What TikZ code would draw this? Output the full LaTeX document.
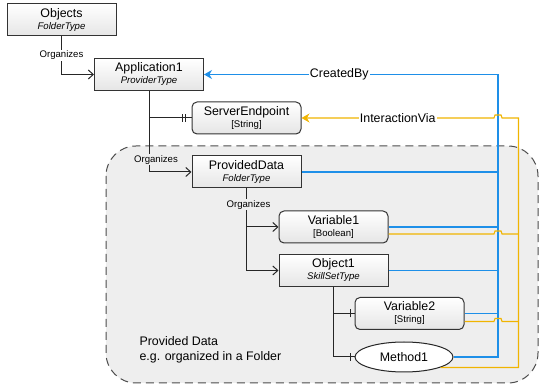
\documentclass[tikz,border=0pt]{standalone}
\usepackage{fontspec}
\setmainfont{Liberation Sans}
\usetikzlibrary{arrows.meta,calc,shapes.geometric,decorations.markings}
\definecolor{createdblue}{HTML}{1E8FE8}
\definecolor{interorange}{HTML}{F0B400}
\definecolor{regiongray}{HTML}{EEEEEE}
\newcommand{\typename}{\fontsize{12.4}{14}\selectfont}
\newcommand{\typesub}{\fontsize{9.6}{11}\selectfont}

\tikzset{
  objbox/.style={draw=black!80, line width=1pt, top color=white, bottom color=black!10,
    minimum width=109pt, minimum height=32pt, inner sep=1pt, align=center, font=\typename},
  varbox/.style={objbox, rounded corners=5pt},
  methodbox/.style={ellipse, draw=black!85, line width=1pt, fill=white,
    minimum width=98pt, minimum height=30pt, inner sep=0pt, font=\typename},
  organizes/.style={draw=black!85, line width=1pt, -{Straight Barb[length=5pt,width=9pt]}},
  component/.style={draw=black!85, line width=1pt},
  barone/.style={postaction={decorate}, decoration={markings,
    mark=at position -4pt with {\draw[line width=1pt,black!85] (0pt,-4pt) -- (0pt,4pt);}}},
  bartwo/.style={postaction={decorate}, decoration={markings,
    mark=at position -6pt with {\draw[line width=1pt,black!85] (0pt,-4pt) -- (0pt,4pt);},
    mark=at position -9pt with {\draw[line width=1pt,black!85] (0pt,-4pt) -- (0pt,4pt);}}},
  createdbranch/.style={draw=createdblue, line width=1.1pt},
  createdby/.style={createdbranch, -{Stealth[length=8pt,width=9pt]}},
  interbranch/.style={draw=interorange, line width=1.1pt},
  interaction/.style={interbranch, -{Stealth[length=8pt,width=9pt]}},
  orglabel/.style={font=\typesub, fill=white, inner sep=1pt},
  linklabel/.style={font=\typename, fill=white, inner sep=1pt},
  region/.style={draw=black!70, line width=1pt, dash pattern=on 8pt off 5pt,
    fill=regiongray, rounded corners=30pt},
}

\begin{document}
\begin{tikzpicture}[x=1pt, y=-1pt]
  \useasboundingbox (0,0) rectangle (539,387);
  % provided data region
  \draw[region] (106,146) rectangle (538,383);
  \node[anchor=west, align=left, font=\fontsize{12.4}{15}\selectfont] (regionNote) at (136,350)
    {Provided Data\\e.g. organized in a Folder};

  % nodes
  \node[objbox] (Objects) at (61.5,20) {Objects\\[-2pt]{\typesub\itshape FolderType}};
  \node[objbox] (Application1) at (149,74.5) {Application1\\[-2pt]{\typesub\itshape ProviderType}};
  \node[varbox] (ServerEndpoint) at (246.5,118) {ServerEndpoint\\[-2pt]{\typesub [String]}};
  \node[objbox] (ProvidedData) at (246.5,172) {ProvidedData\\[-2pt]{\typesub\itshape FolderType}};
  \node[varbox] (Variable1) at (333.5,227) {Variable1\\[-2pt]{\typesub [Boolean]}};
  \node[objbox] (Object1) at (333.5,270.5) {Object1\\[-2pt]{\typesub\itshape SkillSetType}};
  \node[varbox] (Variable2) at (409.5,313.5) {Variable2\\[-2pt]{\typesub [String]}};
  \node[methodbox] (Method1) at (404,357) {Method1};

  % buses on the right
  \coordinate (cbbus) at ([xshift=294pt]Application1.east);
  \coordinate (ivbus) at ([xshift=217pt]ServerEndpoint.east);

  % hierarchy
  \draw[organizes] (Objects.south) |- (Application1.west) node[pos=0.25, orglabel] {Organizes};
  \draw[organizes] (Application1.south) |- (ProvidedData.west)
    node[pos=0.425, xshift=7pt, orglabel, fill=regiongray] {Organizes};
  \draw[component, bartwo] (Application1.south |- ServerEndpoint.west) -- (ServerEndpoint.west);
  \draw[organizes] (ProvidedData.south) |- (Variable1.west);
  \draw[organizes] (ProvidedData.south) |- (Object1.west)
    node[pos=0.1, xshift=2pt, orglabel, fill=regiongray] {Organizes};
  \draw[component, barone] (Object1.south) |- (Variable2.west);
  \draw[component, barone] (Object1.south) |- (Method1.west);

  % created by
  \draw[createdbranch] (ProvidedData.east) -- (ProvidedData.east -| cbbus);
  \draw[createdbranch] (Variable1.east) -- (Variable1.east -| cbbus);
  \draw[createdbranch] (Object1.east) -- (Object1.east -| cbbus);
  \draw[createdbranch] (Variable2.east) -- (Variable2.east -| cbbus);
  \draw[createdby] (Method1.east) -| (cbbus) -- (Application1.east)
    node[pos=0.54, linklabel] {CreatedBy};

  % interaction via
  \draw[interbranch] ([yshift=-7pt]Variable1.east) -- ($(Variable1.east -| cbbus)+(-4,7)$)
    -- ++(1,-3) -- ++(6,0) -- ++(1,3) -- ($(Variable1.east -| ivbus)+(0,7)$);
  \draw[interbranch] ([yshift=-8pt]Variable2.east) -- ($(Variable2.east -| cbbus)+(-4,8)$)
    -- ++(1,-3) -- ++(6,0) -- ++(1,3) -- ($(Variable2.east -| ivbus)+(0,8)$);
  \draw[interaction] (Method1.-16) -| (ivbus) -- ($(ivbus -| cbbus)+(4,0)$)
    -- ++(-1,-3) -- ++(-6,0) -- ++(-1,3) -- (ServerEndpoint.east)
    node[midway, linklabel] {InteractionVia};
\end{tikzpicture}
\end{document}
